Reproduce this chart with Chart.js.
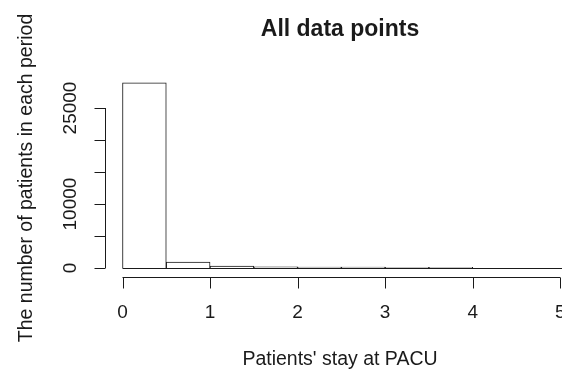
<!DOCTYPE html>
<html>
<head>
<meta charset="utf-8">
<script src="https://cdn.jsdelivr.net/npm/chart.js@4"></script>
<style>
  html, body { margin: 0; padding: 0; background: #fff; }
  #wrap { width: 562px; height: 373px; }
</style>
</head>
<body>
<div id="wrap"><canvas id="hist" width="562" height="373"></canvas></div>
<script>
// histogram bins (hours) and counts
const binStarts = [0, 0.5, 1, 1.5, 2, 2.5, 3, 3.5, 4, 4.5, 5];
const binWidth = 0.5;
const counts = [28950, 920, 300, 170, 150, 140, 130, 120, 0, 0, 0];

const xTicks = [0, 1, 2, 3, 4, 5];
const yTicks = [0, 5000, 10000, 15000, 20000, 25000];
const yTickLabels = ["0", "", "10000", "", "", "25000"];

const titleText = "All data points";
const xTitle = "Patients' stay at PACU";
const yTitle = "The number of patients in each period";

const ink = "#1a1a1a";
const font = "Liberation Sans, Arial, sans-serif";

// R style axes: lines at the plot edges, drawn with the chart's own scales
const rAxes = {
  id: "rAxes",
  afterDraw(chart) {
    const { ctx, chartArea, scales: { x, y } } = chart;
    ctx.save();
    ctx.strokeStyle = ink;
    ctx.fillStyle = ink;
    ctx.lineWidth = 1;

    // zero-height bins still show as a line along the base
    const y0 = Math.round(y.getPixelForValue(0)) + 0.5;
    ctx.beginPath();
    ctx.moveTo(x.getPixelForValue(binStarts[0]), y0);
    ctx.lineTo(chartArea.right, y0);
    ctx.stroke();

    // x axis
    const xa = Math.round(chartArea.bottom) + 0.5;
    ctx.beginPath();
    ctx.moveTo(x.getPixelForValue(xTicks[0]), xa);
    ctx.lineTo(x.getPixelForValue(xTicks[xTicks.length - 1]), xa);
    xTicks.forEach(v => {
      const px = Math.round(x.getPixelForValue(v)) + 0.5;
      ctx.moveTo(px, xa);
      ctx.lineTo(px, xa + 11);
    });
    ctx.stroke();
    ctx.font = "19px " + font;
    ctx.textAlign = "center";
    ctx.textBaseline = "middle";
    xTicks.forEach(v => ctx.fillText(String(v), x.getPixelForValue(v), xa + 35));

    // y axis
    const ya = Math.round(chartArea.left) + 0.5;
    ctx.beginPath();
    ctx.moveTo(ya, y.getPixelForValue(yTicks[0]));
    ctx.lineTo(ya, y.getPixelForValue(yTicks[yTicks.length - 1]));
    yTicks.forEach(v => {
      const py = Math.round(y.getPixelForValue(v)) + 0.5;
      ctx.moveTo(ya, py);
      ctx.lineTo(ya - 11, py);
    });
    ctx.stroke();
    yTicks.forEach((v, i) => {
      if (!yTickLabels[i]) return;
      ctx.save();
      ctx.translate(ya - 35, y.getPixelForValue(v));
      ctx.rotate(-Math.PI / 2);
      ctx.fillText(yTickLabels[i], 0, 0);
      ctx.restore();
    });

    // titles
    const cx = 340;
    ctx.font = "bold 23px " + font;
    ctx.textBaseline = "alphabetic";
    ctx.fillText(titleText, cx, 36);
    ctx.textBaseline = "middle";
    ctx.font = "19.5px " + font;
    ctx.fillText(xTitle, cx, 360);
    ctx.save();
    ctx.translate(27, 178);
    ctx.rotate(-Math.PI / 2);
    ctx.fillText(yTitle, 0, 0);
    ctx.restore();
    ctx.restore();
  }
};

new Chart(document.getElementById("hist"), {
  type: "bar",
  data: {
    datasets: [{
      data: binStarts.map((b, i) => ({ x: b + binWidth / 2, y: counts[i] })),
      backgroundColor: "#fff",
      borderColor: ink,
      borderWidth: 1,
      barPercentage: 1,
      categoryPercentage: 1
    }]
  },
  options: {
    responsive: false,
    devicePixelRatio: 1,
    animation: false,
    layout: { padding: { left: 105, right: 0, top: 76, bottom: 96 } },
    plugins: { legend: { display: false }, tooltip: { enabled: false } },
    scales: {
      x: { type: "linear", display: false, offset: false, min: -0.2, max: 5.02 },
      y: { type: "linear", display: false, min: -1400, max: 30000 }
    }
  },
  plugins: [rAxes]
});
</script>
</body>
</html>
